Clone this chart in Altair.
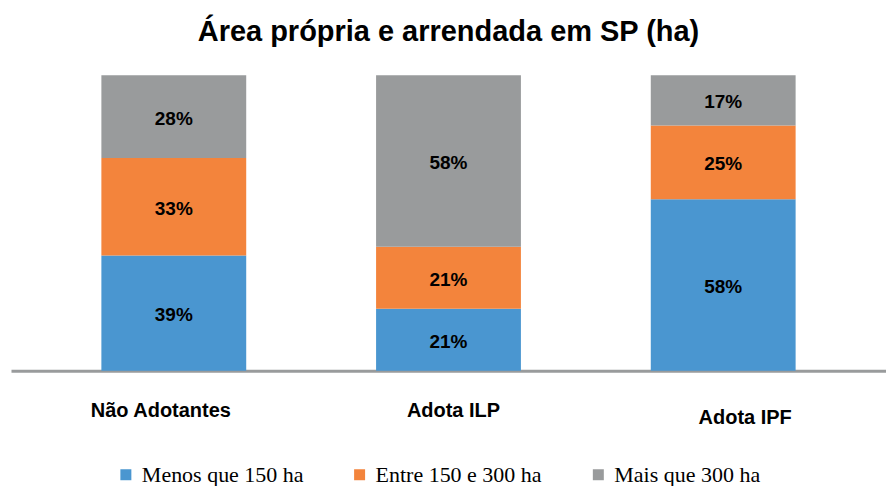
import altair as alt
import pandas as pd

categories = ["Não Adotantes", "Adota ILP", "Adota IPF"]
series = ["Menos que 150 ha", "Entre 150 e 300 ha", "Mais que 300 ha"]
menos = [39, 21, 58]
entre = [33, 21, 25]
mais = [28, 58, 17]
colors = ["#4A96D0", "#F3843C", "#999B9C"]

rows = []
for i, c in enumerate(categories):
    for k, (s, vals) in enumerate(zip(series, [menos, entre, mais])):
        rows.append({"cat": c, "serie": s, "value": vals[i], "ord": k})
df = pd.DataFrame(rows)

xenc = alt.X(
    "cat:N",
    sort=categories,
    title=None,
    scale=alt.Scale(paddingInner=0.4727, paddingOuter=0.329),
    axis=alt.Axis(
        labelAngle=0,
        labelFont="Liberation Sans",
        labelFontWeight="bold",
        labelFontSize=20,
        labelColor="black",
        labelPadding={"condition": {"test": "datum.value === 'Adota IPF'", "value": 37}, "value": 30},
        labelOffset={
            "condition": [
                {"test": "datum.value === 'Não Adotantes'", "value": -13},
                {"test": "datum.value === 'Adota IPF'", "value": 22},
            ],
            "value": 5,
        },
        ticks=False,
        domainColor="#999B9C",
        domainWidth=3,
    ),
)

base = alt.Chart(df)

bars = base.mark_bar(size=145).encode(
    x=xenc,
    y=alt.Y("value:Q", stack="zero", scale=alt.Scale(domain=[0, 100]), axis=None),
    color=alt.Color(
        "serie:N",
        scale=alt.Scale(domain=series, range=colors),
        legend=alt.Legend(
            title=None,
            orient="none",
            direction="horizontal",
            legendX=104,
            legendY=389,
            symbolType="square",
            symbolSize=121,
            symbolStrokeWidth=0,
            labelFont="Liberation Serif, Times New Roman, serif",
            labelFontSize=22,
            labelColor="black",
            labelLimit=400,
            columnPadding=45,
            labelOffset=5,
        ),
    ),
    order=alt.Order("ord:Q"),
)

labels = base.transform_stack(
    stack="value", groupby=["cat"], sort=[alt.SortField("ord")], as_=["y0", "y1"]
).transform_calculate(
    mid="(datum.y0 + datum.y1) / 2",
    txt="datum.value + '%'",
).mark_text(
    font="Liberation Sans", fontWeight="bold", fontSize=19, color="black", baseline="middle", dy=2
).encode(
    x=alt.X("cat:N", sort=categories),
    y=alt.Y("mid:Q", scale=alt.Scale(domain=[0, 100])),
    text="txt:N",
)

chart = alt.layer(bars, labels).properties(
    width=876,
    height=296,
    padding={"left": 3, "right": 0, "top": 10, "bottom": 0},
    title=alt.TitleParams(
        "Área própria e arrendada em SP (ha)",
        font="Liberation Sans",
        fontWeight="bold",
        fontSize=29,
        color="black",
        offset=28,
        anchor="middle",
    ),
).configure_view(stroke=None)

chart.save("out.html", embed_options={"renderer": "svg", "actions": False})
